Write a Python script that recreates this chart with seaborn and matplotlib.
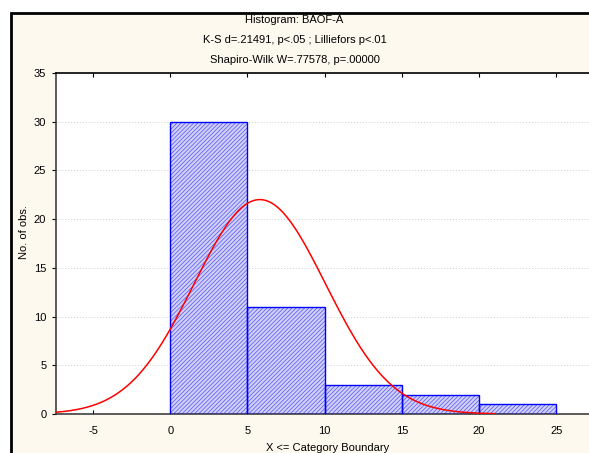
import numpy as np
import pandas as pd
import matplotlib
matplotlib.use("Agg")
import matplotlib.pyplot as plt
from matplotlib.patches import Rectangle
import seaborn as sns

# Histogram of BAOF-A with fitted normal curve
bin_edges = [0, 5, 10, 15, 20, 25]
counts = [30, 11, 3, 2, 1]
fit_mean = 5.8
fit_sd = 4.26
curve_range = (-7.4, 21.0)

title_lines = [
    "Histogram: BAOF-A",
    "K-S d=.21491, p<.05 ; Lilliefors p<.01",
    "Shapiro-Wilk W=.77578, p=.00000",
]
x_ticks = [-5, 0, 5, 10, 15, 20, 25]
y_ticks = [0, 5, 10, 15, 20, 25, 30, 35]

sns.set_style("white")
plt.rcParams["font.family"] = ["Liberation Sans", "DejaVu Sans"]
plt.rcParams["hatch.linewidth"] = 0.55
plt.rcParams["axes.unicode_minus"] = False
plt.rcParams["text.color"] = "black"
plt.rcParams["axes.labelcolor"] = "black"

W, H = 589, 453
fig = plt.figure(figsize=(W / 100, H / 100), dpi=100, facecolor="white")

# cream panel with black frame, behind everything
bg = fig.add_axes([0, 0, 1, 1], zorder=-5)
bg.set_axis_off()
bg.set_xlim(0, W)
bg.set_ylim(H, 0)
bg.add_patch(Rectangle((10.5, 12.5), W + 20, H + 20, facecolor="#fdf9ee",
                       edgecolor="black", linewidth=2))

ax = fig.add_axes([56 / W, 39 / H, (600 - 56) / W, (414 - 73) / H], zorder=1)
ax.set_facecolor("white")

n = sum(counts)
width = bin_edges[1] - bin_edges[0]
centers = [(a + b) / 2 for a, b in zip(bin_edges[:-1], bin_edges[1:])]
df = pd.DataFrame({"x": centers, "w": counts})

# hatched fill in a lighter blue, then a crisp blue outline on top
sns.histplot(data=df, x="x", weights="w", bins=bin_edges, ax=ax,
             facecolor="#d0d0fb", edgecolor="#5c5cf4", linewidth=0,
             hatch="////////", alpha=1, zorder=2)
for p in ax.patches:
    p.set_facecolor("#d0d0fb")
    p.set_edgecolor("#5c5cf4")
    p.set_linewidth(0)
sns.histplot(data=df, x="x", weights="w", bins=bin_edges, ax=ax,
             fill=False, color="#0000ff", linewidth=1.0, zorder=3)
for p in ax.patches[len(counts):]:
    p.set_edgecolor("#0000ff")
    p.set_linewidth(1.0)

xs = np.linspace(curve_range[0], curve_range[1], 400)
ys = n * width / (fit_sd * np.sqrt(2 * np.pi)) * np.exp(-0.5 * ((xs - fit_mean) / fit_sd) ** 2)
sns.lineplot(x=xs, y=ys, ax=ax, color="#ff0000", linewidth=1.1, zorder=4)

x0 = -7.4
ax.set_xlim(x0, x0 + (600 - 56) / 15.44)
ax.set_ylim(0, 35)
ax.set_xticks(x_ticks)
ax.set_yticks(y_ticks)
ax.tick_params(axis="both", labelsize=8, colors="black", width=0.8)
ax.tick_params(axis="x", direction="in", length=3, top=True, bottom=True, pad=9)
ax.tick_params(axis="y", direction="out", length=3, left=True, pad=4)
ax.grid(axis="y", color="#cfcfcf", linestyle=(0, (1, 2)), linewidth=0.7, zorder=0)
ax.set_axisbelow(True)

for side in ["left", "bottom"]:
    ax.spines[side].set_color("#404040")
    ax.spines[side].set_linewidth(1.2)
ax.spines["top"].set_color("black")
ax.spines["top"].set_linewidth(1.2)
ax.spines["right"].set_visible(False)

ax.set_xlabel("X <= Category Boundary", fontsize=8, labelpad=5)
ax.set_ylabel("")
fig.text(24 / W, 1 - 232 / H, "No. of obs.", rotation=90, fontsize=8,
         ha="center", va="center")

for i, line in enumerate(title_lines):
    fig.text(294.5 / W, 1 - (20 + 20 * i) / H, line, fontsize=8,
             ha="center", va="center")

fig.savefig("out.png", dpi=100, facecolor=fig.get_facecolor())
